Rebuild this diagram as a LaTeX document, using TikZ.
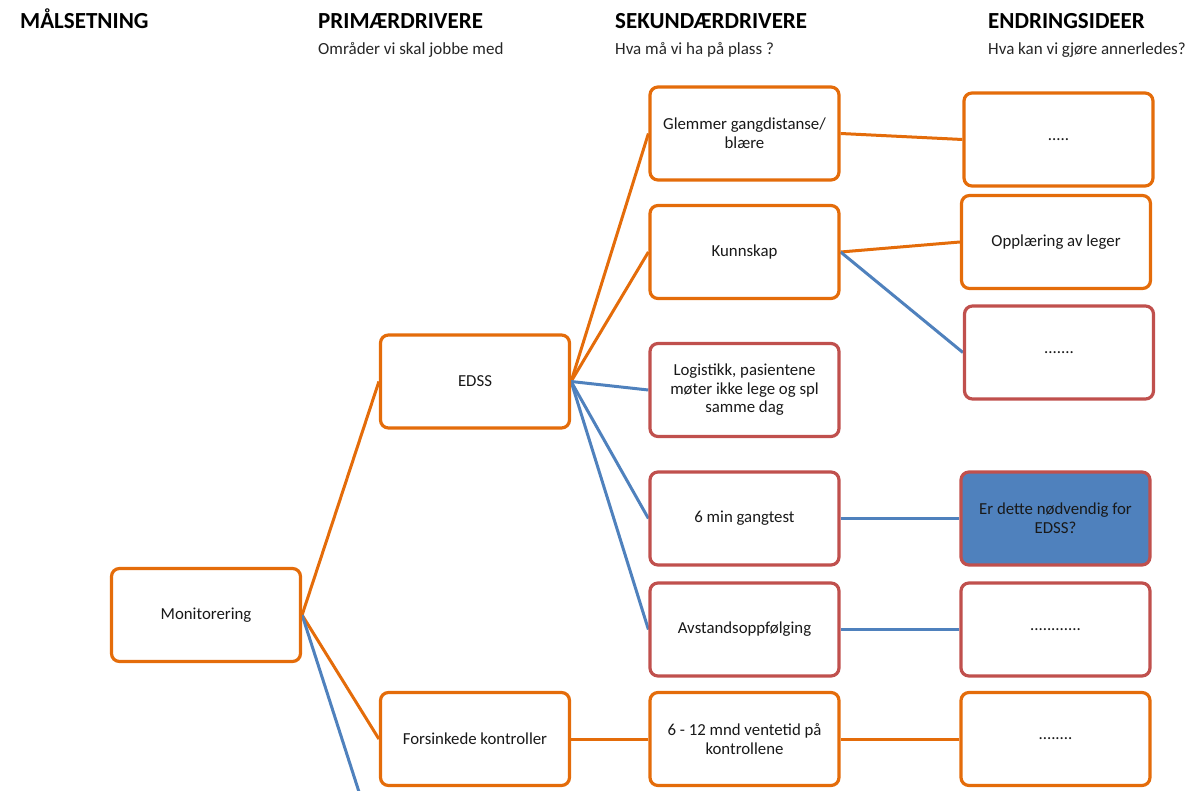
\documentclass[tikz,border=0pt]{standalone}
\usepackage{fontspec}
\setmainfont{Carlito}
\usetikzlibrary{backgrounds}
\definecolor{dorange}{HTML}{E46C0A}
\definecolor{dred}{HTML}{C0504D}
\definecolor{dblue}{HTML}{4F81BD}
\tikzset{
  box/.style={draw=dorange, line width=3.2pt, rounded corners=8pt, fill=white,
    minimum width=189pt, minimum height=93pt, align=center, inner sep=2pt,
    font=\fontsize{16.8}{18.6}\selectfont, text=black!90},
  redbox/.style={box, draw=dred},
  bluebox/.style={box, draw=dred, fill=dblue},
  olink/.style={draw=dorange, line width=3pt},
  blink/.style={draw=dblue, line width=3pt},
  head/.style={anchor=base west, inner sep=0pt, font=\fontsize{23}{26}\selectfont\bfseries, text=black},
  sub/.style={anchor=base west, inner sep=0pt, font=\fontsize{17}{19}\selectfont, text=black!85}
}
\begin{document}
\begin{tikzpicture}[x=1pt,y=-1pt]
\useasboundingbox (0,0) rectangle (1185,791);
% headers
\node[head] (h1) at (20,29) {MÅLSETNING};
\node[head] (h2) at (318,29) {PRIMÆRDRIVERE};
\node[head] (h3) at (615,29) {SEKUNDÆRDRIVERE};
\node[head] (h4) at (988,29) {ENDRINGSIDEER};
\node[sub] (s2) at (318,55) {Områder vi skal jobbe med};
\node[sub] (s3) at (615,55) {Hva må vi ha på plass ?};
\node[sub] (s4) at (988,55) {Hva kan vi gjøre annerledes?};
% boxes
\node[box] (mon) at (206,615) {Monitorering};
\node[box] (edss) at (475,381.5) {EDSS};
\node[box] (fors) at (475,739) {Forsinkede kontroller};
\node[box] (glem) at (744.5,133.5) {Glemmer gangdistanse/\\blære};
\node[box] (kunn) at (744.5,252) {Kunnskap};
\node[redbox] (logi) at (744.5,390) {Logistikk, pasientene\\møter ikke lege og spl\\samme dag};
\node[redbox] (gang) at (744.5,518.5) {6 min gangtest};
\node[redbox] (avst) at (744.5,629.5) {Avstandsoppfølging};
\node[box] (mnd) at (744.5,739) {6 - 12 mnd ventetid på\\kontrollene};
\node[box] (d1) at (1058.5,139.5) {.....};
\node[box] (opp) at (1056,242) {Opplæring av leger};
\node[redbox] (d2) at (1059,352.5) {.......};
\node[bluebox] (er) at (1055.5,518.5) {Er dette nødvendig for\\EDSS?};
\node[redbox] (d3) at (1055.5,629.5) {............};
\node[box] (d4) at (1055.5,739) {........};
\coordinate (off) at (360,795);
% connectors
\begin{pgfonlayer}{background}
\draw[olink] (mon.east) -- (edss.west);
\draw[olink] (mon.east) -- (fors.west);
\draw[blink] (mon.east) -- (off);
\draw[olink] (edss.east) -- (glem.west);
\draw[olink] (edss.east) -- (kunn.west);
\draw[blink] (edss.east) -- (logi.west);
\draw[blink] (edss.east) -- (gang.west);
\draw[blink] (edss.east) -- (avst.west);
\draw[olink] (glem.east) -- (d1.west);
\draw[olink] (kunn.east) -- (opp.west);
\draw[blink] (kunn.east) -- (d2.west);
\draw[blink] (gang.east) -- (er.west);
\draw[blink] (avst.east) -- (d3.west);
\draw[olink] (fors.east) -- (mnd.west);
\draw[olink] (mnd.east) -- (d4.west);
\end{pgfonlayer}
\end{tikzpicture}
\end{document}
